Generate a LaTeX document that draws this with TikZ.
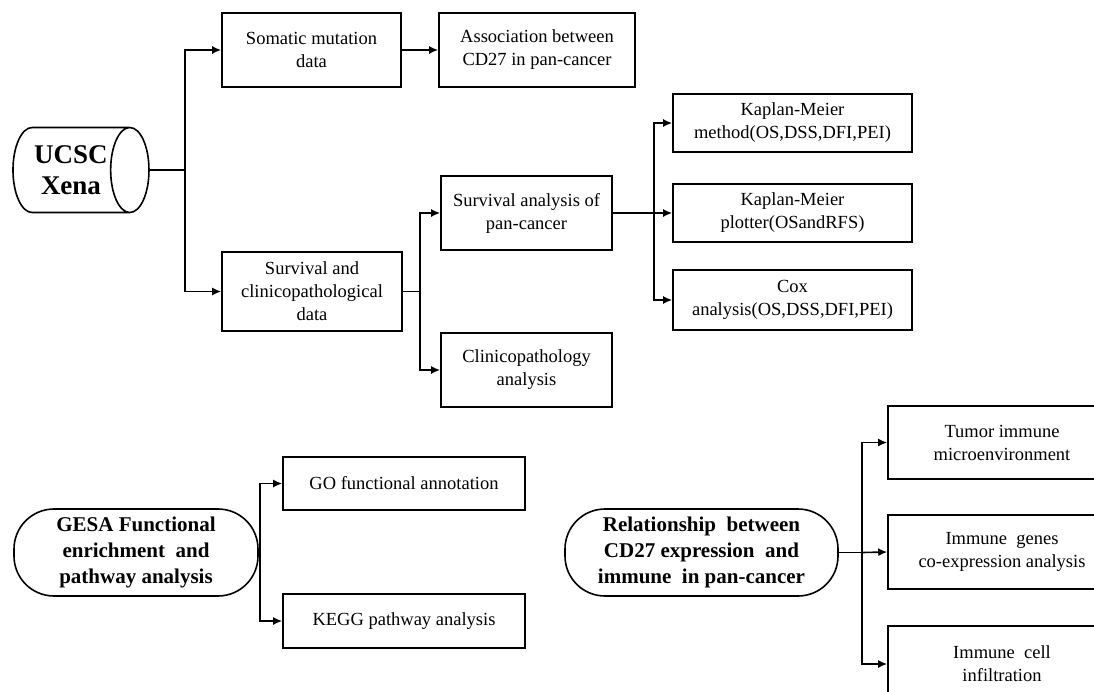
\documentclass[tikz,border=0pt]{standalone}
\usepackage{fontspec,tikz}
\usetikzlibrary{shapes.geometric,arrows.meta}
\setmainfont{Liberation Serif}

\begin{document}
\begin{tikzpicture}[x=1pt,y=-1pt,
  box/.style={draw,line width=1.6pt,align=center,inner sep=2pt,font=\fontsize{18.5}{23}\selectfont},
  pill/.style={draw,line width=1.6pt,align=center,rounded corners=40pt,inner sep=0pt,font=\fontsize{21}{26}\selectfont\bfseries},
  link/.style={line width=1.6pt},
  arr/.style={line width=1.6pt,-{Latex[length=9pt,width=8pt]}}]
\clip (0,0) rectangle (1094,691);
\fill[white] (0,0) rectangle (1094,691);
% source
\node[draw,line width=1.6pt,cylinder,shape aspect=0.78,minimum height=136pt,minimum width=85pt,inner sep=0pt,
  align=center,font=\fontsize{27}{31}\selectfont\bfseries] (ucsc) at (71,170) {UCSC\\Xena};
\node[box,minimum width=179pt,minimum height=74pt] (somatic) at (311.5,50) {Somatic mutation\\data};
\node[box,minimum width=196pt,minimum height=74pt] (assoc) at (537,50) {Association between\\CD27 in pan-cancer};
\node[box,minimum width=180pt,minimum height=79pt] (survdata) at (312,291.5) {Survival and\\clinicopathological\\data};
\node[box,minimum width=171pt,minimum height=74pt] (survan) at (526.5,213) {Survival analysis of\\pan-cancer};
\node[box,minimum width=171pt,minimum height=74pt] (clinic) at (526.5,370) {Clinicopathology\\analysis};
\node[box,minimum width=239pt,minimum height=58pt] (kmmethod) at (792.5,123) {Kaplan-Meier\\method(OS,DSS,DFI,PEI)};
\node[box,minimum width=239pt,minimum height=58pt] (kmplot) at (792.5,213) {Kaplan-Meier\\plotter(OSandRFS)};
\node[box,minimum width=239pt,minimum height=60pt] (cox) at (792.5,300) {Cox\\analysis(OS,DSS,DFI,PEI)};
% lower part
\node[pill,minimum width=244pt,minimum height=87pt] (gesa) at (136,552.5) {GESA Functional\\enrichment~ and\\pathway analysis};
\node[box,minimum width=242pt,minimum height=53pt] (go) at (404,483.5) {GO functional annotation};
\node[box,minimum width=242pt,minimum height=54pt] (kegg) at (404,621) {KEGG pathway analysis};
\node[pill,minimum width=273pt,minimum height=87pt] (rel) at (701.5,552.5) {Relationship~ between\\CD27 expression~ and\\immune~ in pan-cancer};
\node[box,minimum width=228pt,minimum height=73pt] (tumor) at (1002,442.5) {Tumor immune\\microenvironment};
\node[box,minimum width=228pt,minimum height=74pt] (genes) at (1002,552) {Immune~ genes\\co-expression analysis};
\node[box,minimum width=228pt,minimum height=76pt] (cell) at (1002,664) {Immune~ cell\\infiltration};
% connectors
\coordinate (j1) at (185,170);
\coordinate (j2) at (420,291.5);
\coordinate (j3) at (654,213);
\coordinate (j4) at (260,552.5);
\coordinate (j5) at (862,552.5);
\draw[link] (ucsc.east) -- (j1);
\draw[arr] (j1) |- (somatic.west);
\draw[arr] (j1) |- (survdata.west);
\draw[arr] (somatic) -- (assoc);
\draw[link] (survdata.east) -- (j2);
\draw[arr] (j2) |- (survan.west);
\draw[arr] (j2) |- (clinic.west);
\draw[link] (survan.east) -- (j3);
\draw[arr] (j3) |- (kmmethod.west);
\draw[arr] (j3) -- (kmplot.west);
\draw[arr] (j3) |- (cox.west);
\draw[link] (gesa.east) -- (j4);
\draw[arr] (j4) |- (go.west);
\draw[arr] (j4) |- (kegg.west);
\draw[link] (rel.east) -- (j5);
\draw[arr] (j5) |- (tumor.west);
\draw[arr] (j5) -- (genes.west);
\draw[arr] (j5) |- (cell.west);
\end{tikzpicture}
\end{document}
